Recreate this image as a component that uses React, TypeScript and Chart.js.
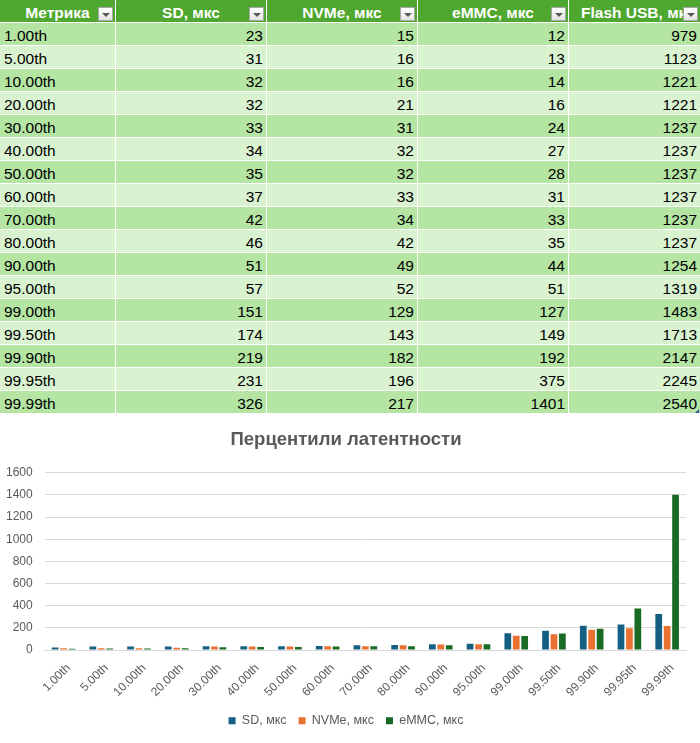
import React, { useEffect, useRef } from 'react';
import { Chart, registerables } from 'chart.js';

Chart.register(...registerables);

const columnHeaders = ['Метрика', 'SD, мкс', 'NVMe, мкс', 'eMMC, мкс', 'Flash USB, мкс'];
const metrics = ['1.00th', '5.00th', '10.00th', '20.00th', '30.00th', '40.00th', '50.00th', '60.00th', '70.00th', '80.00th', '90.00th', '95.00th', '99.00th', '99.50th', '99.90th', '99.95th', '99.99th'];
const sdValues = [23, 31, 32, 32, 33, 34, 35, 37, 42, 46, 51, 57, 151, 174, 219, 231, 326];
const nvmeValues = [15, 16, 16, 21, 31, 32, 32, 33, 34, 42, 49, 52, 129, 143, 182, 196, 217];
const emmcValues = [12, 13, 14, 16, 24, 27, 28, 31, 33, 35, 44, 51, 127, 149, 192, 375, 1401];
const flashValues = [979, 1123, 1221, 1221, 1237, 1237, 1237, 1237, 1237, 1237, 1254, 1319, 1483, 1713, 2147, 2245, 2540];
const chartTitle = 'Перцентили латентности';
const yMax = 1600;
const yStep = 200;

const FONT = '"Liberation Sans", Arial, sans-serif';
const colWidths = [116, 151, 151, 151, 131];
const DARK = '#B4E5A2';
const LIGHT = '#D9F2D0';
const HEADER = '#4EA72E';

function FilterButton() {
  return (
    <div
      style={{
        position: 'absolute',
        right: 2,
        top: 7,
        width: 15,
        height: 14,
        boxSizing: 'border-box',
        border: '1px solid #a6a6a6',
        background: 'linear-gradient(#ffffff, #e4e4e4)',
      }}
    >
      <div
        style={{
          position: 'absolute',
          left: 3,
          top: 5,
          width: 0,
          height: 0,
          borderLeft: '4px solid transparent',
          borderRight: '4px solid transparent',
          borderTop: '4px solid #595959',
        }}
      />
    </div>
  );
}

function DataTable() {
  const rows = metrics.map((m, i) => [m, sdValues[i], nvmeValues[i], emmcValues[i], flashValues[i]]);
  return (
    <div style={{ width: 700, fontFamily: FONT, fontSize: 15.5, position: 'relative' }}>
      <div style={{ display: 'flex', height: 23 }}>
        {columnHeaders.map((h, c) => (
          <div
            key={c}
            style={{
              position: 'relative',
              width: colWidths[c],
              height: 23,
              boxSizing: 'border-box',
              borderRight: c < 4 ? '1px solid #fff' : 'none',
              borderBottom: '1px solid #fff',
              background: HEADER,
              color: '#fff',
              fontWeight: 'bold',
              overflow: 'hidden',
            }}
          >
            <div
              style={{
                paddingTop: 3,
                lineHeight: '19px',
                textAlign: c === 4 ? 'left' : 'center',
                whiteSpace: 'nowrap',
                paddingLeft: c === 4 ? 12 : 0,
              }}
            >
              {h}
            </div>
            <FilterButton />
          </div>
        ))}
      </div>
      {rows.map((r, i) => (
        <div key={i} style={{ display: 'flex', height: 23 }}>
          {r.map((v, c) => (
            <div
              key={c}
              style={{
                width: colWidths[c],
                height: 23,
                boxSizing: 'border-box',
                borderRight: c < 4 ? '1px solid #fff' : 'none',
                borderBottom: '1px solid #fff',
                background: i % 2 === 0 ? DARK : LIGHT,
                color: '#000',
                paddingTop: 3,
                lineHeight: '19px',
                textAlign: c === 0 ? 'left' : 'right',
                paddingLeft: c === 0 ? 4 : 0,
                paddingRight: c === 0 ? 0 : 3,
                whiteSpace: 'nowrap',
              }}
            >
              {v}
            </div>
          ))}
        </div>
      ))}
      <div
        style={{
          position: 'absolute',
          right: 1,
          bottom: 1,
          width: 0,
          height: 0,
          borderLeft: '4px solid transparent',
          borderBottom: '4px solid #2f5597',
        }}
      />
    </div>
  );
}

function LatencyChart() {
  const ref = useRef<HTMLCanvasElement>(null);
  useEffect(() => {
    if (!ref.current) return;
    const chart = new Chart(ref.current, {
      type: 'bar',
      data: {
        labels: metrics,
        datasets: [
          { label: 'SD, мкс', data: sdValues, backgroundColor: '#156082', barPercentage: 0.8, categoryPercentage: 0.67 },
          { label: 'NVMe, мкс', data: nvmeValues, backgroundColor: '#E97132', barPercentage: 0.8, categoryPercentage: 0.67 },
          { label: 'eMMC, мкс', data: emmcValues, backgroundColor: '#196B24', barPercentage: 0.8, categoryPercentage: 0.67 },
        ],
      },
      options: {
        animation: false,
        responsive: false,
        devicePixelRatio: 1,
        layout: { padding: { left: 6, right: 14, top: 0, bottom: 6 } },
        plugins: {
          title: {
            display: true,
            text: chartTitle,
            color: '#595959',
            font: { family: FONT, size: 18.5, weight: 'bold' },
            padding: { top: 15, bottom: 21.5 },
          },
          legend: {
            position: 'bottom',
            labels: {
              boxWidth: 7,
              boxHeight: 7,
              color: '#595959',
              padding: 12,
              font: { family: FONT, size: 12.5 },
            },
          },
          tooltip: { enabled: false },
        },
        scales: {
          x: {
            grid: { display: false },
            border: { color: '#d9d9d9' },
            ticks: {
              minRotation: 45,
              maxRotation: 45,
              color: '#595959',
              font: { family: FONT, size: 12 },
              padding: 3,
              labelOffset: 5,
              autoSkip: false,
            },
          },
          y: {
            min: 0,
            max: yMax,
            border: { display: false },
            grid: { color: '#d9d9d9', drawTicks: true, tickLength: 12, tickColor: 'rgba(0,0,0,0)' },
            ticks: {
              stepSize: yStep,
              color: '#595959',
              font: { family: FONT, size: 12 },
              padding: 0,
              callback: (v: any) => String(v),
            },
          },
        },
      },
    });
    return () => chart.destroy();
  }, []);
  return <canvas ref={ref} width={700} height={329} style={{ display: 'block', width: 700, height: 329 }} />;
}

export default function App() {
  useEffect(() => {
    document.body.style.margin = '0';
  }, []);
  return (
    <div style={{ width: 700, height: 743, background: '#fff', overflow: 'hidden' }}>
      <DataTable />
      <LatencyChart />
    </div>
  );
}
